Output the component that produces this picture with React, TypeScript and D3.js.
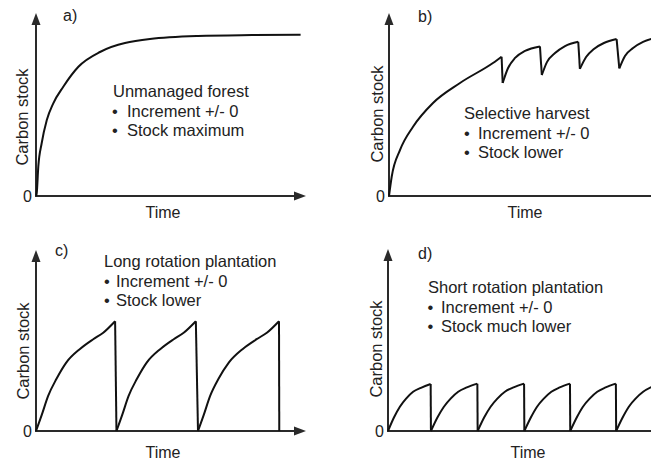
import React from 'react';
import * as d3 from 'd3';

const W = 651;
const H = 463;

// ---- Data (time in arbitrary units 0..100, carbon stock 0..100) ----
// a) Unmanaged forest
const aTime = [[0, 0.26, 0.85, 2.1, 4.0, 6.4, 10.1, 15.7, 23.7, 42.2, 60, 80, 98]];
const aStock = [[0, 1.5, 16.3, 29.3, 42.2, 51.5, 60.7, 71.8, 80, 87.2, 88.9, 89.4, 89.6]];

// b) Selective harvest
const bTime = [
  [0, 1, 4.1, 8.9, 16.3, 26.3, 38.5, 41.7],
  [42.1, 44.1, 46.7, 50.4, 55.9],
  [56.6, 58.5, 61.5, 65.2, 70.1],
  [70.7, 73, 75.9, 79.6, 84.3],
  [85.3, 87.4, 90.4, 94.1, 97.5],
];
const bStock = [
  [0, 10.7, 25.6, 38.5, 51.7, 62.8, 73.9, 77.4],
  [62.8, 71.1, 76.7, 80.6, 83.1],
  [67.2, 74.4, 79.4, 83.3, 85.7],
  [70.6, 77.2, 81.7, 85, 87.2],
  [70.9, 77.8, 82.2, 85.6, 87.4],
];

// c) Long rotation plantation
const cTime = [
  [0, 2.1, 4.5, 7.6, 11.2, 16.3, 21.2, 24.9, 29.3],
  [29.8, 31.9, 34.3, 37.4, 41, 46.1, 51, 54.7, 59.2],
  [60, 62.1, 64.5, 67.6, 71.4, 76.6, 81.7, 85.5, 90],
  [90.1],
];
const cStock = [
  [0, 8.8, 19.5, 29, 38, 45.6, 51, 54.6, 61],
  [0, 8.8, 19.5, 29, 38, 45.6, 51, 54.6, 61],
  [0, 8.8, 19.5, 29, 38, 45.6, 51, 54.6, 61],
  [0],
];

// d) Short rotation plantation
const dTime = [
  [0, 2.2, 4.4, 6.7, 9.3, 12.2, 15.8],
  [15.9, 18.3, 20.7, 23.2, 26, 29.2, 33.1],
  [33.2, 35.6, 38, 40.5, 43.3, 46.5, 50.4],
  [50.5, 52.9, 55.2, 57.7, 60.5, 63.6, 67.4],
  [67.5, 69.9, 72.2, 74.7, 77.5, 80.6, 84.4],
  [84.5, 86.9, 89.2, 91.7, 94.5, 97.5],
];
const dStock = [
  [0, 7.5, 13.5, 18, 21.8, 24, 26.1],
  [0, 7.5, 13.5, 18, 21.8, 24.2, 26.3],
  [0, 7.5, 13.5, 18, 21.8, 24.2, 26.3],
  [0, 7.5, 13.5, 18, 21.8, 24.2, 26.3],
  [0, 7.5, 13.5, 18, 21.8, 24.2, 26.3],
  [0, 7.5, 13.5, 18, 21.8, 24.4],
];

const panelLetters = ['a)', 'b)', 'c)', 'd)'];
const panelTitles = [
  'Unmanaged forest',
  'Selective harvest',
  'Long rotation plantation',
  'Short rotation plantation',
];
const panelBullets = [
  ['Increment +/- 0', 'Stock maximum'],
  ['Increment +/- 0', 'Stock lower'],
  ['Increment +/- 0', 'Stock lower'],
  ['Increment +/- 0', 'Stock much lower'],
];
const yAxisLabel = 'Carbon stock';
const xAxisLabel = 'Time';
const zeroLabel = '0';

const seriesTime = [aTime, bTime, cTime, dTime];
const seriesStock = [aStock, bStock, cStock, dStock];

// ---- Layout ----
const layout = [
  { x0: 36, y0: 196, yTip: 13, xEnd: 306, xArrow: true, letter: [63, 21], text: [113, 97, 112, 127], timeX: 163, timeY: 218, ylabX: 28, ylabY: 117 },
  { x0: 389, y0: 196, yTip: 13, xEnd: 652, xArrow: false, letter: [418, 22], text: [464, 119, 464, 478], timeX: 525, timeY: 218, ylabX: 383, ylabY: 114 },
  { x0: 36, y0: 431, yTip: 250, xEnd: 306, xArrow: true, letter: [55, 256], text: [104, 267, 104, 116], timeX: 163, timeY: 458, ylabX: 29, ylabY: 351 },
  { x0: 388, y0: 431, yTip: 249, xEnd: 652, xArrow: false, letter: [418, 259], text: [428, 293, 427.5, 441], timeX: 528, timeY: 458, ylabX: 382, ylabY: 349 },
];

const FONT = '"Liberation Sans", Arial, Helvetica, sans-serif';
const TEXT = '#222';
const AXIS = '#2a2a2a';
const LINE = '#111';

function Panel({ idx }: { idx: number }) {
  const L = layout[idx];
  const xs = d3.scaleLinear().domain([0, 100]).range([L.x0, L.x0 + 270]);
  const ys = d3.scaleLinear().domain([0, 100]).range([L.y0, L.y0 - 180]);
  const times = seriesTime[idx];
  const stocks = seriesStock[idx];
  const segs: [number, number][][] = times.map((ts, i) => ts.map((t, j) => [t, stocks[i][j]] as [number, number]));
  const line = d3
    .line<[number, number]>()
    .x((d) => xs(d[0]))
    .y((d) => ys(d[1]))
    .curve(d3.curveMonotoneX);
  const straight = d3
    .line<[number, number]>()
    .x((d) => xs(d[0]))
    .y((d) => ys(d[1]));
  const drops: [number, number][][] = [];
  for (let i = 0; i < segs.length - 1; i++) {
    drops.push([segs[i][segs[i].length - 1], segs[i + 1][0]]);
  }
  const [tx, ty, bx, btx] = L.text;
  const lh = 19.7;
  return (
    <g>
      {/* axes */}
      <line x1={L.x0} y1={L.y0} x2={L.x0} y2={L.yTip + 8} stroke={AXIS} strokeWidth={2} />
      <path d={`M${L.x0},${L.yTip} L${L.x0 - 4.5},${L.yTip + 12} L${L.x0 + 4.5},${L.yTip + 12} Z`} fill={AXIS} />
      <line x1={L.x0 - 1} y1={L.y0} x2={L.xArrow ? L.xEnd - 8 : L.xEnd} y2={L.y0} stroke={AXIS} strokeWidth={2} />
      {L.xArrow && (
        <path d={`M${L.xEnd},${L.y0} L${L.xEnd - 12},${L.y0 - 4.5} L${L.xEnd - 12},${L.y0 + 4.5} Z`} fill={AXIS} />
      )}
      {/* curves */}
      {segs.map((s, i) =>
        s.length > 1 ? <path key={'s' + i} d={line(s) || ''} fill="none" stroke={LINE} strokeWidth={2} strokeLinejoin="round" /> : null
      )}
      {drops.map((s, i) => (
        <path key={'d' + i} d={straight(s) || ''} fill="none" stroke={LINE} strokeWidth={2} />
      ))}
      {/* labels */}
      <text x={L.x0 - 4} y={L.y0 + 6} textAnchor="end" fontSize={16} fill={TEXT}>{zeroLabel}</text>
      <text x={L.timeX} y={L.timeY} textAnchor="middle" fontSize={16} fill={TEXT}>{xAxisLabel}</text>
      <text transform={`translate(${L.ylabX},${L.ylabY}) rotate(-90)`} textAnchor="middle" fontSize={16.5} fill={TEXT}>{yAxisLabel}</text>
      <text x={L.letter[0]} y={L.letter[1]} fontSize={16} fill={TEXT}>{panelLetters[idx]}</text>
      <text x={tx} y={ty} fontSize={16.5} fill={TEXT}>{panelTitles[idx]}</text>
      {panelBullets[idx].map((b, i) => (
        <g key={'b' + i}>
          <text x={bx} y={ty + lh * (i + 1)} fontSize={16.5} fill={TEXT}>{'\u2022'}</text>
          <text x={btx} y={ty + lh * (i + 1)} fontSize={16.5} fill={TEXT}>{b}</text>
        </g>
      ))}
    </g>
  );
}

export default function App() {
  return (
    <svg
      width={W}
      height={H}
      viewBox={`0 0 ${W} ${H}`}
      style={{ position: 'absolute', left: 0, top: 0, background: '#fff', fontFamily: FONT }}
    >
      <rect width={W} height={H} fill="#fff" />
      {[0, 1, 2, 3].map((i) => (
        <Panel key={i} idx={i} />
      ))}
    </svg>
  );
}
